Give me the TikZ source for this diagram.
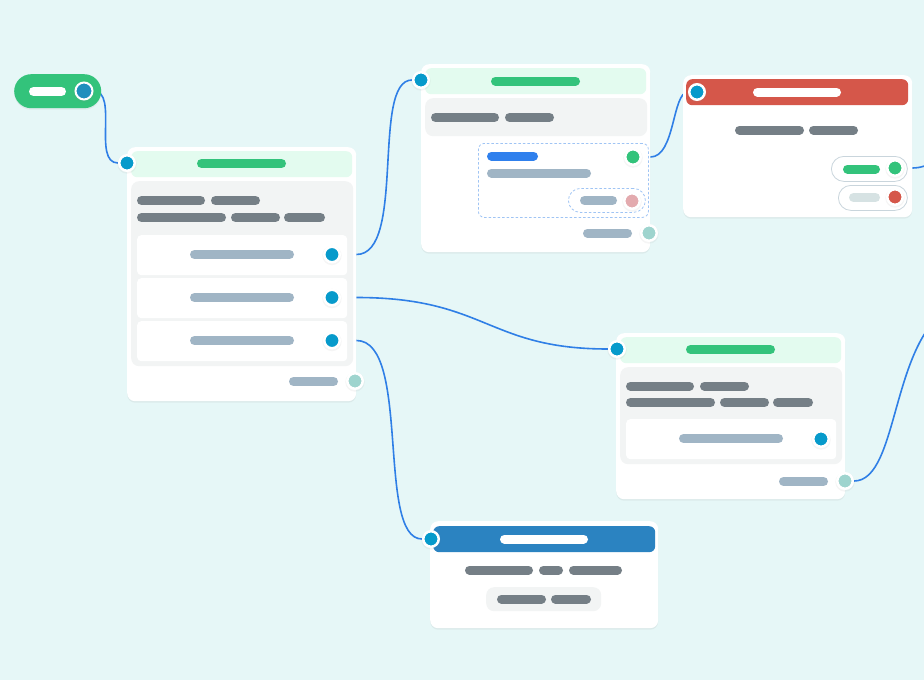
\documentclass[tikz,border=0pt]{standalone}
\usetikzlibrary{positioning, shadows}
\definecolor{canvas}{HTML}{E6F7F7}
\definecolor{leaf}{HTML}{33C37B}
\definecolor{mint}{HTML}{E3FBEF}
\definecolor{panel}{HTML}{F2F4F4}
\definecolor{slate}{HTML}{757F86}
\definecolor{mist}{HTML}{A0B5C5}
\definecolor{haze}{HTML}{D6E2E3}
\definecolor{plug}{HTML}{079ACB}
\definecolor{plugdark}{HTML}{1F8FBD}
\definecolor{sea}{HTML}{9ED4CE}
\definecolor{rose}{HTML}{E3AAAE}
\definecolor{brick}{HTML}{D5574A}
\definecolor{cobalt}{HTML}{2B83C1}
\definecolor{azure}{HTML}{2F80ED}
\definecolor{wirecol}{HTML}{2F7FE6}
\definecolor{dashblue}{HTML}{9FC4F4}
\definecolor{rim}{HTML}{C9D5DC}

\pgfdeclarelayer{backdrop}
\pgfdeclarelayer{wires}
\pgfsetlayers{backdrop,wires,main}

% placeholder text line: [colour]{x from}{x to}{y}
\newcommand{\skel}[4][slate]{\draw[skel, #1] (#2+4.5,#4) -- (#3-4.5,#4);}

\begin{document}
\begin{tikzpicture}[x=1pt, y=-1pt,
    card/.style={fill=white, rounded corners=8pt, anchor=north west, inner sep=0pt,
      drop shadow={shadow xshift=0pt, shadow yshift=-1.5pt, opacity=0.1}},
    head/.style={rounded corners=6pt, anchor=north west, inner sep=0pt,
      minimum height=26pt},
    row/.style={fill=white, rounded corners=4pt, anchor=north west, inner sep=0pt,
      minimum width=210pt, minimum height=40pt},
    branch/.style={draw=dashblue, dash pattern=on 2.5pt off 2pt, line width=0.8pt,
      rounded corners=6pt, anchor=north west, inner sep=0pt},
    option/.style={draw=rim, fill=white, line width=0.8pt, rounded corners=12.5pt,
      anchor=north west, inner sep=0pt, minimum height=25pt},
    port/.style={circle, draw=white, line width=2.5pt, fill=plug, minimum size=15.5pt,
      inner sep=0pt, drop shadow={shadow xshift=0pt, shadow yshift=-0.8pt,
      shadow scale=1.25, opacity=0.08}},
    skel/.style={line width=9pt, line cap=round},
    wire/.style={wirecol, line width=1.6pt}]
  \useasboundingbox (0,0) rectangle (924,680);
  \begin{pgfonlayer}{backdrop}
    \fill[canvas] (0,0) rectangle (924,680);
  \end{pgfonlayer}

  % trigger
  \node[card, fill=leaf, rounded corners=17pt, minimum width=87pt, minimum height=34pt] (trigger) at (14,74) {};
  \skel[white]{29}{66}{91.5}
  \node[port, fill=plugdark, minimum size=17pt, line width=2pt] (tout) at (84,91) {};

  % intent card
  \node[card, minimum width=229pt, minimum height=254pt] (intent) at (127,147) {};
  \node[head, fill=mint, minimum width=221pt] (intenthead) at (131,151) {};
  \skel[leaf]{197}{286}{163.5}
  \node[head, fill=panel, rounded corners=8pt, minimum width=222pt, minimum height=185pt] (intentbody) at (131,181) {};
  \skel{137}{205}{200.5} \skel{211}{260}{200.5}
  \skel{137}{226}{217.5} \skel{231}{280}{217.5} \skel{284}{325}{217.5}
  \foreach \y/\k in {235/a, 278/b, 321/c} {
    \node[row] (row\k) at (137,\y) {};
    \skel[mist]{190}{294}{\y+19.5}
    \node[port] (out\k) at (332,\y+19.5) {};
  }
  \skel[mist]{289}{338}{381.5}
  \node[port, fill=sea] (intentfoot) at (355,381) {};
  \node[port] (intentin) at (127,163) {};

  % check card
  \node[card, minimum width=229pt, minimum height=188pt] (check) at (421,64) {};
  \node[head, fill=mint, minimum width=221pt] (checkhead) at (425,68) {};
  \skel[leaf]{491}{580}{81}
  \node[head, fill=panel, rounded corners=8pt, minimum width=222pt, minimum height=38pt] (checkbody) at (425,98) {};
  \skel{431}{499}{117.5} \skel{505}{554}{117.5}
  \node[branch, minimum width=170pt, minimum height=74pt] (checkcase) at (478,143) {};
  \skel[azure]{487}{538}{156}
  \skel[mist]{487}{591}{173}
  \node[port, fill=leaf] (checkok) at (633,157) {};
  \node[branch, rounded corners=12pt, minimum width=77pt, minimum height=24pt] (checkelse) at (568,188) {};
  \skel[mist]{580}{617}{200.5}
  \node[port, fill=rose] (checkfail) at (632,201) {};
  \skel[mist]{583}{632}{233}
  \node[port, fill=sea] (checkfoot) at (649,233) {};
  \node[port] (checkin) at (421,80) {};

  % alert card
  \node[card, minimum width=229pt, minimum height=142pt] (alert) at (683,75) {};
  \node[head, fill=brick, minimum width=222pt] (alerthead) at (686,79) {};
  \skel[white]{753}{841}{92}
  \skel{735}{804}{130} \skel{809}{858}{130}
  \node[option, minimum width=76pt] (alertyes) at (831,156) {};
  \skel[leaf]{843}{880}{169}
  \node[port, fill=leaf] (alertok) at (895,168) {};
  \node[option, minimum width=69pt] (alertno) at (838,185) {};
  \skel[haze]{849}{880}{197.5}
  \node[port, fill=brick] (alertstop) at (895,197) {};
  \node[port] (alertin) at (697,92) {};

  % reply card
  \node[card, minimum width=229pt, minimum height=166pt] (reply) at (616,333) {};
  \node[head, fill=mint, minimum width=221pt] (replyhead) at (620,337) {};
  \skel[leaf]{686}{775}{349.5}
  \node[head, fill=panel, rounded corners=8pt, minimum width=222pt, minimum height=97pt] (replybody) at (620,367) {};
  \skel{626}{694}{386} \skel{700}{749}{386}
  \skel{626}{715}{402.5} \skel{720}{769}{402.5} \skel{773}{813}{402.5}
  \node[row] (replyrow) at (626,419) {};
  \skel[mist]{679}{783}{438.5}
  \node[port] (replyout) at (821,439) {};
  \skel[mist]{779}{828}{481.5}
  \node[port, fill=sea] (replyfoot) at (845,481) {};
  \node[port] (replyin) at (617,349) {};

  % finish card
  \node[card, minimum width=228pt, minimum height=107pt] (finish) at (430,521) {};
  \node[head, fill=cobalt, minimum width=222pt] (finishhead) at (433,526) {};
  \skel[white]{500}{588}{539}
  \skel{465}{533}{570} \skel{539}{563}{570} \skel{569}{622}{570}
  \node[head, fill=panel, rounded corners=8pt, minimum width=115pt, minimum height=24pt] (finishtag) at (486,587) {};
  \skel{497}{546}{599} \skel{551}{591}{599}
  \node[port] (finishin) at (431,539) {};

  % off-canvas targets
  \coordinate (offa) at (990,120);
  \coordinate (offb) at (955,305);

  \begin{pgfonlayer}{wires}
    \clip (0,0) rectangle (924,680);
    \draw[wire] (tout) .. controls +(35,0) and +(-35,0) .. (intentin);
    \draw[wire] (outa -| intent.east) .. controls +(50,0) and +(-50,0) .. (checkin);
    \draw[wire] (outb -| intent.east) .. controls +(130,0) and +(-130,0) .. (replyin);
    \draw[wire] (outc -| intent.east) .. controls +(55,0) and +(-55,0) .. (finishin);
    \draw[wire] (checkok -| check.east) .. controls +(25,0) and +(-25,0) .. (alertin);
    \draw[wire] (alertok -| alert.east) .. controls +(35,0) and +(-30,0) .. (offa);
    \draw[wire] (replyfoot) .. controls +(55,0) and +(-65,30) .. (offb);
  \end{pgfonlayer}
\end{tikzpicture}
\end{document}
